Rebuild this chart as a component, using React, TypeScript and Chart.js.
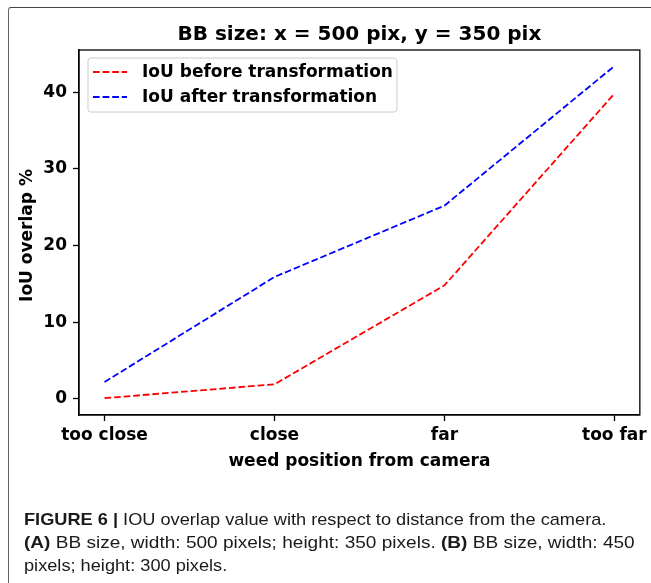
import React, { useEffect, useRef } from "react";
import { Chart, registerables } from "chart.js";

Chart.register(...registerables);

const categories = ["too close", "close", "far", "too far"];
const beforeValues = [0.1, 1.9, 14.8, 39.8];
const afterValues = [2.2, 15.9, 25.2, 43.4];
const yTicks = [0, 10, 20, 30, 40];
const seriesLabels = ["IoU before transformation", "IoU after transformation"];
const seriesColors = ["#ff0000", "#0000ff"];
const titleText = "BB size: x = 500 pix, y = 350 pix";
const xTitle = "weed position from camera";
const yTitle = "IoU overlap %";

const FONT = "'DejaVu Sans', sans-serif";
const DASH = [6.7, 2.9];

const overlay = {
  id: "overlay",
  afterDraw(chart: any) {
    const { ctx, chartArea: a } = chart;
    ctx.save();
    ctx.strokeStyle = "#000";
    ctx.lineWidth = 1.3;
    ctx.setLineDash([]);
    ctx.strokeRect(a.left, a.top, a.right - a.left, a.bottom - a.top);

    ctx.fillStyle = "#000";
    ctx.textAlign = "center";
    ctx.textBaseline = "alphabetic";
    ctx.font = `bold 20px ${FONT}`;
    ctx.fillText(titleText, (a.left + a.right) / 2, a.top - 10);

    ctx.font = `bold 17px ${FONT}`;
    ctx.fillText(xTitle, (a.left + a.right) / 2, 466);

    ctx.save();
    ctx.translate(32, (a.top + a.bottom) / 2 + 3);
    ctx.rotate(-Math.PI / 2);
    ctx.fillText(yTitle, 0, 0);
    ctx.restore();

    // legend
    const lx = a.left + 9;
    const ly = a.top + 8;
    const lw = 309;
    const lh = 54;
    ctx.beginPath();
    ctx.roundRect(lx, ly, lw, lh, 3);
    ctx.fillStyle = "rgba(255,255,255,0.8)";
    ctx.fill();
    ctx.strokeStyle = "#cccccc";
    ctx.lineWidth = 1;
    ctx.stroke();
    chart.data.datasets.forEach((ds: any, i: number) => {
      const y = ly + 14 + i * 25;
      ctx.beginPath();
      ctx.setLineDash(DASH);
      ctx.strokeStyle = ds.borderColor;
      ctx.lineWidth = 1.8;
      ctx.moveTo(lx + 5, y);
      ctx.lineTo(lx + 39, y);
      ctx.stroke();
      ctx.setLineDash([]);
      ctx.fillStyle = "#000";
      ctx.textAlign = "left";
      ctx.textBaseline = "middle";
      ctx.font = `bold 17px ${FONT}`;
      ctx.fillText(ds.label, lx + 54, y + 1);
    });
    ctx.restore();
  },
};

function ChartView() {
  const ref = useRef<HTMLCanvasElement | null>(null);
  useEffect(() => {
    if (!ref.current) return;
    const tickFont = { family: FONT, size: 17, weight: "bold" as const };
    const chart = new Chart(ref.current, {
      type: "line",
      data: {
        datasets: [
          {
            label: seriesLabels[0],
            data: beforeValues.map((v, i) => ({ x: i, y: v })),
            borderColor: seriesColors[0],
            borderDash: DASH,
            borderWidth: 1.8,
            pointRadius: 0,
            fill: false,
            tension: 0,
          },
          {
            label: seriesLabels[1],
            data: afterValues.map((v, i) => ({ x: i, y: v })),
            borderColor: seriesColors[1],
            borderDash: DASH,
            borderWidth: 1.8,
            pointRadius: 0,
            fill: false,
            tension: 0,
          },
        ],
      },
      options: {
        animation: false,
        responsive: false,
        layout: { padding: { top: 50, right: 7, left: 0, bottom: 0 } },
        plugins: { legend: { display: false }, title: { display: false }, tooltip: { enabled: false } },
        scales: {
          x: {
            type: "linear",
            min: -0.15,
            max: 3.15,
            afterBuildTicks: (s: any) => {
              s.ticks = categories.map((_, i) => ({ value: i }));
            },
            afterFit: (s: any) => {
              s.height = 65;
            },
            ticks: {
              callback: (v: any) => categories[v as number],
              font: tickFont,
              color: "#000",
              padding: 4,
              autoSkip: false,
              maxRotation: 0,
            },
            grid: { drawOnChartArea: false, drawTicks: true, tickLength: 6, tickColor: "#000", tickWidth: 1.3 },
            border: { display: true, color: "#000", width: 1.3 },
          },
          y: {
            type: "linear",
            min: -2.1,
            max: 45.5,
            afterBuildTicks: (s: any) => {
              s.ticks = yTicks.map((v) => ({ value: v }));
            },
            afterFit: (s: any) => {
              s.width = 79;
            },
            ticks: { font: tickFont, color: "#000", padding: 6 },
            grid: { drawOnChartArea: false, drawTicks: true, tickLength: 6, tickColor: "#000", tickWidth: 1.3 },
            border: { display: true, color: "#000", width: 1.3 },
          },
        },
      },
      plugins: [overlay],
    });
    return () => chart.destroy();
  }, []);
  return <canvas ref={ref} width={651} height={480} style={{ display: "block", position: "absolute", left: 0, top: 0 }} />;
}

const captionFont = "'Liberation Sans', Arial, sans-serif";

export default function App() {
  const lineStyle: React.CSSProperties = {
    position: "absolute",
    left: 24,
    whiteSpace: "nowrap",
    fontFamily: captionFont,
    fontSize: 17,
    lineHeight: "23px",
    color: "#1a1a1a",
    transformOrigin: "0 50%",
  };
  return (
    <div style={{ position: "absolute", left: 0, top: 0, width: 651, height: 583, background: "#fff", overflow: "hidden" }}>
      <ChartView />
      <div
        style={{
          position: "absolute",
          left: 8,
          top: 7,
          width: 700,
          height: 600,
          borderLeft: "1.5px solid #666",
          borderTop: "1.5px solid #444",
          borderTopLeftRadius: 3,
          boxSizing: "border-box",
          pointerEvents: "none",
        }}
      />
      <div style={{ ...lineStyle, top: 508, transform: "scaleX(1.07)" }}>
        <b>FIGURE 6 |</b> IOU overlap value with respect to distance from the camera.
      </div>
      <div style={{ ...lineStyle, top: 531, transform: "scaleX(1.12)" }}>
        <b>(A)</b> BB size, width: 500 pixels; height: 350 pixels. <b>(B)</b> BB size, width: 450
      </div>
      <div style={{ ...lineStyle, top: 554, transform: "scaleX(1.07)" }}>pixels; height: 300 pixels.</div>
    </div>
  );
}
